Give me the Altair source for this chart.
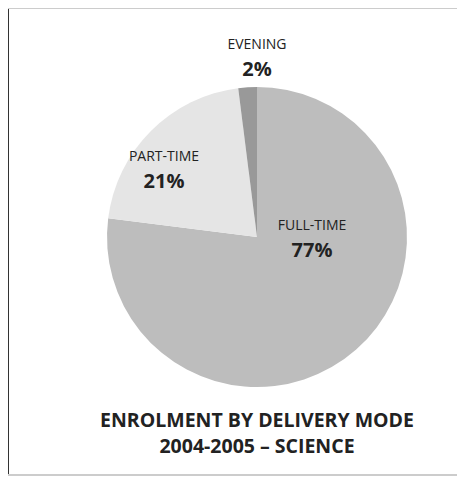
import altair as alt
import pandas as pd
import math

categories = ["FULL-TIME", "PART-TIME", "EVENING"]
values = [77, 21, 2]
pct_labels = ["77%", "21%", "2%"]
colors = ["#bdbdbd", "#e5e5e5", "#999999"]
title_lines = ["ENROLMENT BY DELIVERY MODE", "2004-2005 \u2013 SCIENCE"]

df = pd.DataFrame({
    "category": categories,
    "value": values,
    "pct": pct_labels,
    "order": list(range(len(categories))),
})

W, H = 449, 468
CX, CY, R = 249, 229, 150
FONT = "Open Sans"

# label placement (polar, relative to pie centre): angle in degrees clockwise from top, radius
label_pos = {"FULL-TIME": (91, 55), "PART-TIME": (306, 115), "EVENING": (0, 180)}
ang_expr = " : ".join(
    f"datum.category == '{k}' ? {math.radians(a):.4f}" for k, (a, r) in label_pos.items()
) + " : 0"
rad_expr = " : ".join(
    f"datum.category == '{k}' ? {r}" for k, (a, r) in label_pos.items()
) + " : 0"

base = alt.Chart(df)

pie = base.mark_arc(outerRadius=R, strokeWidth=0).encode(
    theta=alt.Theta("value:Q", stack=True),
    color=alt.Color("category:N", scale=alt.Scale(domain=categories, range=colors), legend=None),
    order=alt.Order("order:Q"),
    x=alt.value(CX),
    y=alt.value(CY),
)

lab = base.transform_calculate(la=ang_expr, lr=rad_expr)

names = lab.mark_text(font=FONT, fontSize=14, color="#222222", dy=-12, baseline="middle").encode(
    theta=alt.Theta("la:Q", scale=None),
    radius=alt.Radius("lr:Q", scale=None),
    text="category:N",
    x=alt.value(CX),
    y=alt.value(CY),
)

pcts = lab.mark_text(font=FONT, fontSize=20, fontWeight="bold", color="#222222", dy=13, baseline="middle").encode(
    theta=alt.Theta("la:Q", scale=None),
    radius=alt.Radius("lr:Q", scale=None),
    text="pct:N",
    x=alt.value(CX),
    y=alt.value(CY),
)

one = pd.DataFrame({"k": [0]})
left_rule = alt.Chart(one).mark_rule(color="#333333", strokeWidth=2).encode(
    x=alt.value(0), y=alt.value(0), y2=alt.value(H)
)
top_rule = alt.Chart(one).mark_rule(color="#cccccc", strokeWidth=2).encode(
    x=alt.value(0), x2=alt.value(W), y=alt.value(0)
)
bottom_rule = alt.Chart(one).mark_rule(color="#cccccc", strokeWidth=2).encode(
    x=alt.value(0), x2=alt.value(W), y=alt.value(H - 1)
)

title = alt.Chart(one).mark_text(
    font=FONT, fontSize=19.5, fontWeight="bold", color="#222222",
    baseline="middle", lineHeight=26
).encode(
    text=alt.value(title_lines),
    x=alt.value(CX),
    y=alt.value(413),
)

chart = alt.layer(pie, names, pcts, title, left_rule, top_rule, bottom_rule).properties(
    width=W, height=H, autosize=alt.AutoSizeParams(type="none"), padding=0
).configure_view(stroke=None)

chart.save("out.html", embed_options={"renderer": "svg", "actions": False})
